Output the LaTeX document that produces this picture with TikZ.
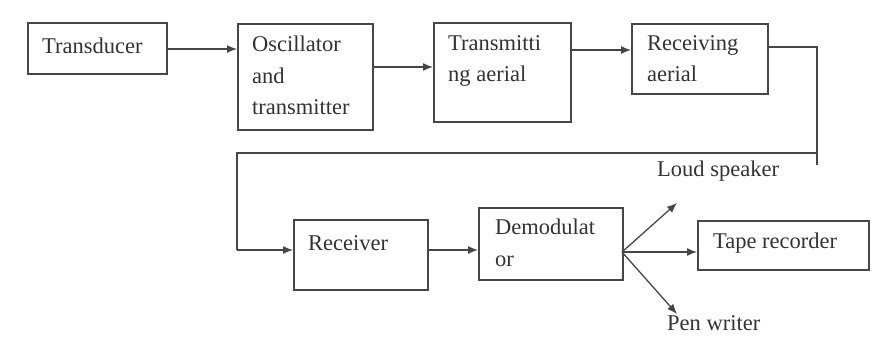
\documentclass[tikz,border=0pt]{standalone}
\usepackage{fontspec}
\setmainfont{Liberation Serif}
\usetikzlibrary{arrows.meta}
\definecolor{ln}{RGB}{70,70,70}
\definecolor{tx}{RGB}{50,50,50}
\begin{document}
\begin{tikzpicture}[x=1pt,y=-1pt,
  box/.style={draw=ln,line width=1.6pt,inner sep=0pt,anchor=north west},
  lbl/.style={text=tx,font=\fontsize{22.5}{31.5}\selectfont,inner sep=0pt,anchor=base west,align=left},
  conn/.style={draw=ln,line width=1.3pt},
  arr/.style={conn,-{Latex[length=10pt,width=8pt]}}]
\useasboundingbox (0,0) rectangle (877,338);
% boxes
\node[box,minimum width=139pt,minimum height=51pt] (td) at (27,22) {};
\node[box,minimum width=135pt,minimum height=106pt] (osc) at (237,23) {};
\node[box,minimum width=137pt,minimum height=99pt] (tr) at (433,22) {};
\node[box,minimum width=136pt,minimum height=70pt] (ra) at (631,23) {};
\node[box,minimum width=134pt,minimum height=70pt] (rx) at (293,219) {};
\node[box,minimum width=144pt,minimum height=72pt] (dm) at (478,207) {};
\node[box,minimum width=171pt,minimum height=49pt] (tp) at (697,220) {};
% texts
\node[lbl] (tdt) at (42,53) {Transducer};
\node[lbl,anchor=north west] (osct) at (252,36) {Oscillator\\and\\transmitter};
\node[lbl,anchor=north west] (trt) at (448,35) {Transmitti\\ng aerial};
\node[lbl,anchor=north west] (rat) at (647,35) {Receiving\\aerial};
\node[lbl] (rxt) at (308,250) {Receiver};
\node[lbl,anchor=north west] (dmt) at (495,219) {Demodulat\\or};
\node[lbl] (tpt) at (713,248) {Tape recorder};
\node[lbl] (ls) at (657,176) {Loud speaker};
\node[lbl] (pw) at (667,330) {Pen writer};
% coordinates
\coordinate (c1) at (817,47);
\coordinate (c2) at (817,165);
\coordinate (c3) at (817,153);
\coordinate (c4) at (237,153);
\coordinate (c5) at (237,250);
\coordinate (br) at (622,252);
\coordinate (lsend) at (677,203);
\coordinate (pwend) at (677,314);
% connectors
\draw[arr] (td.east |- 0,49) -- (osc.west |- 0,49);
\draw[arr] (osc.east |- 0,67) -- (tr.west |- 0,67);
\draw[arr] (tr.east |- 0,50) -- (ra.west |- 0,50);
\draw[conn] (ra.east |- c1) -- (c1) -- (c2);
\draw[conn] (c3) -- (c4) -- (c5);
\draw[arr] (c5) -- (rx.west |- c5);
\draw[arr] (rx.east |- 0,250) -- (dm.west |- 0,250);
\draw[arr] (br) -- (lsend);
\draw[arr] (br) -- (tp.west |- br);
\draw[arr] (br) -- (pwend);
\end{tikzpicture}
\end{document}
